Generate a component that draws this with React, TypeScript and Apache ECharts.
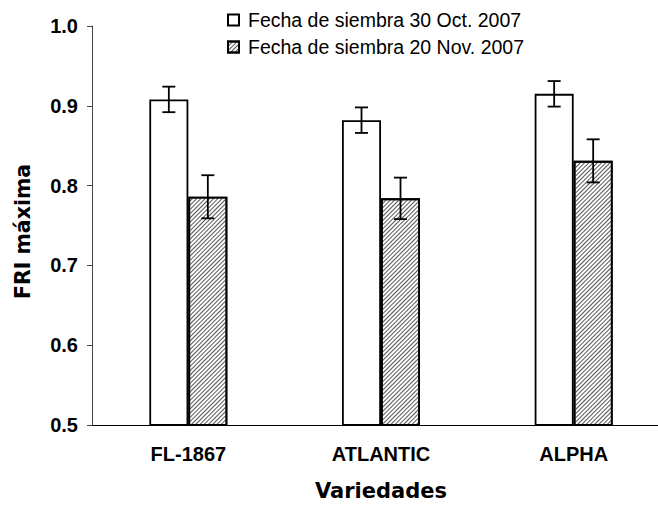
import React, { useEffect, useRef } from "react";
import * as echarts from "echarts";

const categories = ["FL-1867", "ATLANTIC", "ALPHA"];
const seriesNames = ["Fecha de siembra 30 Oct. 2007", "Fecha de siembra 20 Nov. 2007"];
const octValues = [0.908, 0.882, 0.915];
const octErrors = [0.016, 0.016, 0.016];
const novValues = [0.786, 0.784, 0.831];
const novErrors = [0.027, 0.026, 0.027];

const FONT = "'Liberation Sans', Arial, sans-serif";
const NAME_FONT = "'DejaVu Sans', 'Liberation Sans', sans-serif";
const BAR_W = 39;

function errorSeries(values: number[], errors: number[], offset: number) {
  const data = values.map((v, i) => [i, v - errors[i], v + errors[i]]);
  return {
    type: "custom",
    silent: true,
    z: 10,
    data,
    encode: { x: 0, y: [1, 2] },
    renderItem: (params: any, api: any) => {
      const i = api.value(0);
      const lo = api.coord([i, api.value(1)]);
      const hi = api.coord([i, api.value(2)]);
      const x = lo[0] + offset;
      const cap = 6.5;
      const style = { stroke: "#000", lineWidth: 1.8 };
      return {
        type: "group",
        children: [
          { type: "line", shape: { x1: x, y1: lo[1], x2: x, y2: hi[1] }, style },
          { type: "line", shape: { x1: x - cap, y1: lo[1], x2: x + cap, y2: lo[1] }, style },
          { type: "line", shape: { x1: x - cap, y1: hi[1], x2: x + cap, y2: hi[1] }, style },
        ],
      };
    },
  };
}

export default function App() {
  const ref = useRef<HTMLDivElement>(null);
  useEffect(() => {
    if (!ref.current) return;
    const chart = echarts.init(ref.current, undefined, { renderer: "svg" });
    const decal = {
      symbol: "rect",
      symbolSize: 1,
      color: "#555",
      dashArrayX: [1, 0],
      dashArrayY: [1, 1.8],
      rotation: -Math.PI / 4,
    };
    chart.setOption({
      animation: false,
      backgroundColor: "#fff",
      grid: { left: 92, top: 26, right: 0, height: 405 },
      legend: {
        orient: "vertical",
        left: 222,
        top: 5,
        itemWidth: 11,
        itemHeight: 11,
        itemGap: 7,
        icon: "rect",
        textStyle: { fontFamily: FONT, fontSize: 19.5, color: "#000", padding: [0, 0, 0, 4] },
        data: seriesNames,
      },
      xAxis: {
        type: "category",
        data: categories,
        axisLine: { lineStyle: { color: "#000", width: 1 } },
        axisTick: { show: false },
        axisLabel: { fontFamily: FONT, fontWeight: "bold", fontSize: 20, color: "#000", margin: 19 },
        name: "Variedades",
        nameLocation: "middle",
        nameGap: 55,
        nameTextStyle: { fontFamily: NAME_FONT, fontWeight: "bold", fontSize: 21, color: "#000" },
      },
      yAxis: {
        type: "value",
        min: 0.5,
        max: 1.0,
        interval: 0.1,
        axisLine: { show: true, lineStyle: { color: "#444", width: 1 } },
        axisTick: { show: true, length: 5, lineStyle: { color: "#444" } },
        splitLine: { show: false },
        axisLabel: {
          fontFamily: FONT,
          fontWeight: "bold",
          fontSize: 20,
          color: "#000",
          margin: 14,
          formatter: (v: number) => v.toFixed(1),
        },
        name: "FRI máxima",
        nameLocation: "middle",
        nameGap: 59,
        nameRotate: 90,
        nameTextStyle: {
          fontFamily: NAME_FONT,
          fontWeight: "bold",
          fontSize: 20.5,
          color: "#000",
          padding: [0, 12, 0, 0],
        },
      },
      series: [
        {
          name: seriesNames[0],
          type: "bar",
          data: octValues,
          barWidth: BAR_W,
          barGap: "0%",
          itemStyle: { color: "#fff", borderColor: "#000", borderWidth: 1.8 },
        },
        {
          name: seriesNames[1],
          type: "bar",
          data: novValues,
          barWidth: BAR_W,
          barGap: "0%",
          itemStyle: { color: "#fff", borderColor: "#000", borderWidth: 1.8, decal },
        },
        errorSeries(octValues, octErrors, -BAR_W / 2),
        errorSeries(novValues, novErrors, BAR_W / 2),
      ],
    });
    return () => chart.dispose();
  }, []);
  return (
    <div
      style={{
        position: "fixed",
        left: 0,
        top: 0,
        width: 658,
        height: 506,
        overflow: "hidden",
        background: "#fff",
      }}
    >
      <div ref={ref} style={{ width: 670, height: 506 }} />
    </div>
  );
}
